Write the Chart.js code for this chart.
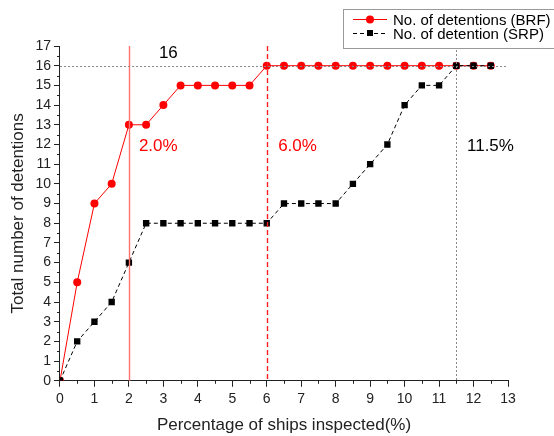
<!DOCTYPE html>
<html>
<head>
<meta charset="utf-8">
<script src="https://cdn.jsdelivr.net/npm/chart.js@4.4.1/dist/chart.umd.min.js"></script>
<style>
  html, body { margin: 0; padding: 0; background: #fff; }
  #wrap { width: 554px; height: 436px; }
</style>
</head>
<body>
<div id="wrap"><canvas id="chart" width="554" height="436"></canvas></div>
<script>
// percentage of ships inspected
const pct = [0, 0.5, 1, 1.5, 2, 2.5, 3, 3.5, 4, 4.5, 5, 5.5, 6, 6.5, 7, 7.5, 8, 8.5, 9, 9.5, 10, 10.5, 11, 11.5, 12, 12.5];
const brf = [0, 5, 9, 10, 13, 13, 14, 15, 15, 15, 15, 15, 16, 16, 16, 16, 16, 16, 16, 16, 16, 16, 16, 16, 16, 16];
const srp = [0, 2, 3, 4, 6, 8, 8, 8, 8, 8, 8, 8, 8, 9, 9, 9, 9, 10, 11, 12, 14, 15, 15, 16, 16, 16];
const xTicks = [0, 1, 2, 3, 4, 5, 6, 7, 8, 9, 10, 11, 12, 13];
const yTicks = [0, 1, 2, 3, 4, 5, 6, 7, 8, 9, 10, 11, 12, 13, 14, 15, 16, 17];
const labelBRF = "No. of detentions (BRF)";
const labelSRP = "No. of detention (SRP)";

const font = "Liberation Sans, Arial, sans-serif";

// reference lines, minor ticks, annotations, legend
const extras = {
  id: "extras",
  afterDraw(chart) {
    const c = chart.ctx;
    const x = chart.scales.x, y = chart.scales.y;
    const top = y.getPixelForValue(17), bot = y.getPixelForValue(0);
    c.save();

    // x=2 red solid
    c.lineWidth = 1.4;
    c.strokeStyle = "#ff7070";
    c.beginPath();
    c.moveTo(Math.round(x.getPixelForValue(2)) + 0.5, top);
    c.lineTo(Math.round(x.getPixelForValue(2)) + 0.5, bot);
    c.stroke();

    // x=6 red dashed
    c.strokeStyle = "#ff2020";
    c.setLineDash([5, 3]);
    c.beginPath();
    c.moveTo(Math.round(x.getPixelForValue(6)) + 0.5, top);
    c.lineTo(Math.round(x.getPixelForValue(6)) + 0.5, bot);
    c.stroke();

    // y=16 and x=11.5 dotted
    c.lineWidth = 1;
    c.strokeStyle = "#888";
    c.setLineDash([2, 2]);
    c.beginPath();
    c.moveTo(x.getPixelForValue(0), Math.round(y.getPixelForValue(16)) + 0.5);
    c.lineTo(x.getPixelForValue(13), Math.round(y.getPixelForValue(16)) + 0.5);
    c.moveTo(Math.round(x.getPixelForValue(11.5)) + 0.5, top);
    c.lineTo(Math.round(x.getPixelForValue(11.5)) + 0.5, bot);
    c.stroke();
    c.setLineDash([]);

    // minor ticks
    c.strokeStyle = "#222";
    c.beginPath();
    for (let v = 0.5; v < 13; v += 1) {
      const px = Math.round(x.getPixelForValue(v)) + 0.5;
      c.moveTo(px, bot);
      c.lineTo(px, bot + 3);
    }
    for (let v = 0.5; v < 17; v += 1) {
      const py = Math.round(y.getPixelForValue(v)) + 0.5;
      c.moveTo(x.left, py);
      c.lineTo(x.left - 3, py);
    }
    c.stroke();

    // annotations
    c.font = "17px " + font;
    c.textBaseline = "middle";
    c.textAlign = "left";
    c.fillStyle = "#000";
    c.fillText("16", x.getPixelForValue(2.87), y.getPixelForValue(16.63));
    c.fillStyle = "#ff0000";
    c.fillText("2.0%", x.getPixelForValue(2.29), y.getPixelForValue(11.9));
    c.fillText("6.0%", x.getPixelForValue(6.33), y.getPixelForValue(11.9));
    c.fillStyle = "#000";
    c.fillText("11.5%", x.getPixelForValue(11.81), y.getPixelForValue(11.9));

    // legend
    const lx = 343, ly = 9, lw = 216, lh = 39;
    c.fillStyle = "#fff";
    c.fillRect(lx, ly, lw, lh);
    c.strokeStyle = "#999";
    c.lineWidth = 1;
    c.strokeRect(lx + 0.5, ly + 0.5, lw, lh);

    const r1 = 19.5, r2 = 33.5;
    c.strokeStyle = "#ff0000";
    c.beginPath();
    c.moveTo(lx + 10, r1);
    c.lineTo(lx + 44, r1);
    c.stroke();
    c.fillStyle = "#ff0000";
    c.beginPath();
    c.arc(lx + 27, r1, 4, 0, Math.PI * 2);
    c.fill();

    c.strokeStyle = "#000";
    c.setLineDash([4, 3]);
    c.beginPath();
    c.moveTo(lx + 10, r2);
    c.lineTo(lx + 44, r2);
    c.stroke();
    c.setLineDash([]);
    c.fillStyle = "#000";
    c.fillRect(lx + 24, r2 - 3.5, 6, 6);

    c.fillStyle = "#000";
    c.font = "15px " + font;
    c.fillText(labelBRF, lx + 50, r1 + 1);
    c.fillText(labelSRP, lx + 50, r2 + 1);
    c.restore();
  }
};

new Chart(document.getElementById("chart"), {
  type: "line",
  data: {
    datasets: [
      {
        label: labelBRF,
        data: pct.map((p, i) => ({ x: p, y: brf[i] })),
        borderColor: "#ff0000",
        backgroundColor: "#ff0000",
        borderWidth: 1,
        pointStyle: "circle",
        pointRadius: 4,
        pointBorderWidth: 0,
        tension: 0,
        order: 2
      },
      {
        label: labelSRP,
        data: pct.map((p, i) => ({ x: p, y: srp[i] })),
        borderColor: "#000",
        backgroundColor: "#000",
        borderWidth: 1,
        borderDash: [4, 3],
        pointStyle: "rect",
        pointRadius: 4.5,
        pointBorderWidth: 0,
        tension: 0,
        order: 1
      }
    ]
  },
  options: {
    responsive: false,
    animation: false,
    layout: { padding: { top: 46, right: 46, bottom: 0, left: 4 } },
    plugins: {
      legend: { display: false },
      tooltip: { enabled: false }
    },
    scales: {
      x: {
        type: "linear",
        min: 0,
        max: 13,
        afterBuildTicks: s => { s.ticks = xTicks.map(v => ({ value: v })); },
        grid: { drawOnChartArea: false, tickLength: 6, color: "#222" },
        border: { color: "#222", width: 1 },
        ticks: { color: "#222", font: { family: font, size: 14 }, padding: 4, maxRotation: 0, autoSkip: false },
        title: { display: true, text: "Percentage of ships inspected(%)", color: "#222", font: { family: font, size: 17 }, padding: { top: 4, bottom: 0 } }
      },
      y: {
        min: 0,
        max: 17,
        afterBuildTicks: s => { s.ticks = yTicks.map(v => ({ value: v })); },
        grid: { drawOnChartArea: false, tickLength: 6, color: "#222" },
        border: { color: "#222", width: 1 },
        ticks: { color: "#222", font: { family: font, size: 14 }, padding: 3, autoSkip: false },
        title: { display: true, text: "Total number of detentions", color: "#222", font: { family: font, size: 17 }, padding: { top: 4, bottom: 4 } }
      }
    }
  },
  plugins: [extras]
});
</script>
</body>
</html>
